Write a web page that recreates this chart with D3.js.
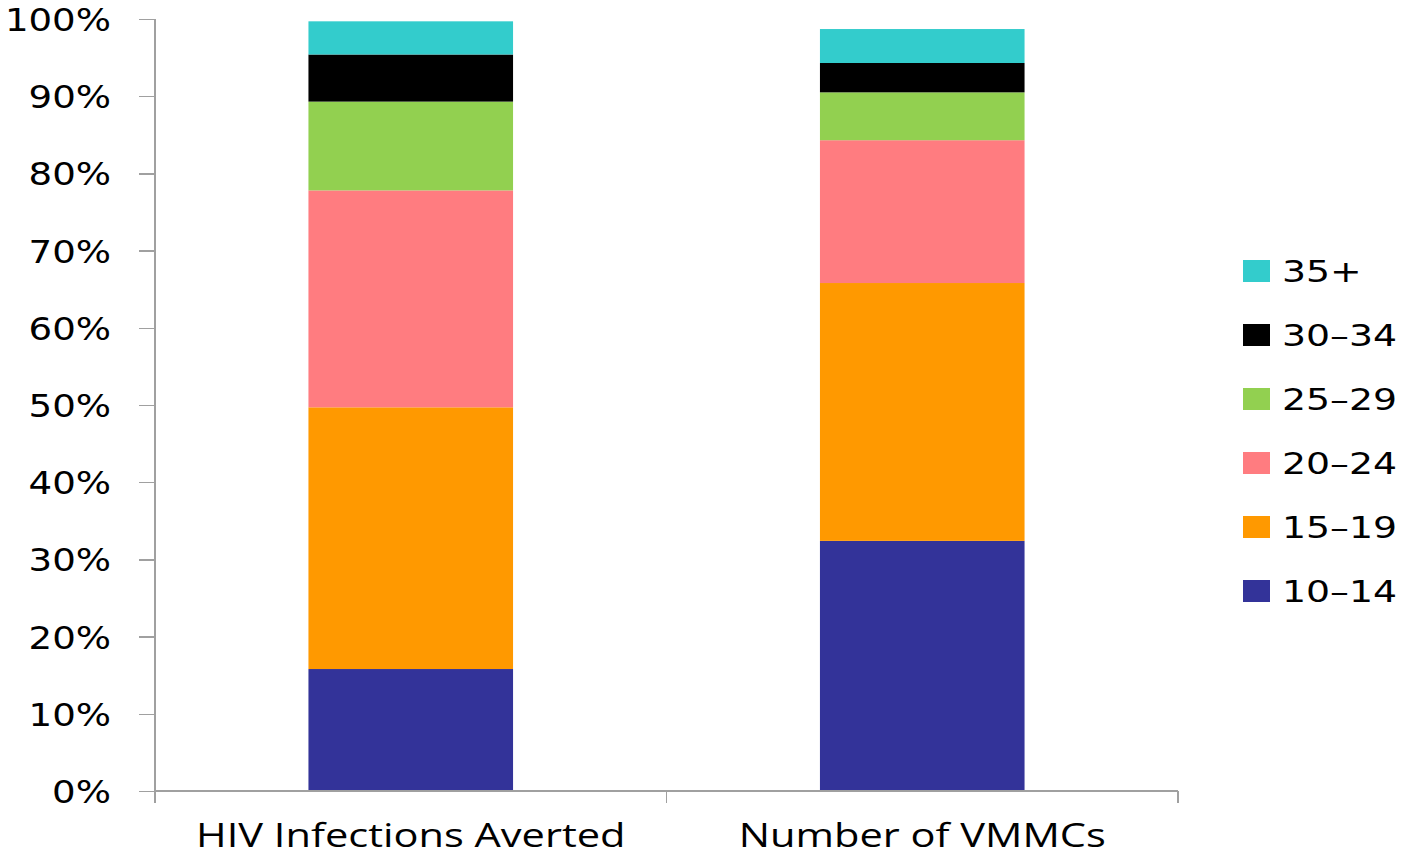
<!DOCTYPE html>
<html lang="en">
<head>
<meta charset="utf-8">
<title>Age distribution</title>
<style>
    body, html { margin: 0; padding: 0; background: #fff; overflow: hidden; }
    svg { display: block; }
    .axis path, .axis line { stroke: #a0a0a0; stroke-width: 1.5px; shape-rendering: crispEdges; }
    .ytick { font-family: "DejaVu Sans", sans-serif; font-size: 32px; fill: #000; }
    .xlabel { font-family: "Open Sans", sans-serif; font-size: 33px; fill: #000; }
    .legend text { font-family: "DejaVu Sans", sans-serif; font-size: 31px; fill: #000; }
</style>
<script src="https://d3js.org/d3.v7.min.js"></script>
</head>
<body>
<svg id="chart" width="1406" height="857"></svg>
<script>
// categories and series (shares of each bar)
var categories = ["HIV Infections Averted", "Number of VMMCs"];
var ageGroups = ["10\u201314", "15\u201319", "20\u201324", "25\u201329", "30\u201334", "35+"];
var averted = [0.158, 0.339, 0.281, 0.115, 0.061, 0.043];
var vmmcs = [0.324, 0.334, 0.185, 0.062, 0.038, 0.044];
var colors = ["#333399", "#ff9900", "#ff7c80", "#92d050", "#000000", "#33cccc"];
var yTicks = [0, 0.1, 0.2, 0.3, 0.4, 0.5, 0.6, 0.7, 0.8, 0.9, 1];

var svg = d3.select("#chart");
var stretch = 1.16; // text in the picture is drawn wide

var x = d3.scaleBand()
    .domain(categories)
    .range([155, 1178])
    .paddingInner(0.6)
    .paddingOuter(0.3);

var y = d3.scaleLinear()
    .domain([0, 1])
    .range([791, 19]);

var color = d3.scaleOrdinal().domain(ageGroups).range(colors);

// stack the values
var rows = categories.map(function(c, i) {
    var vals = i === 0 ? averted : vmmcs;
    var r = { cat: c };
    ageGroups.forEach(function(g, j) { r[g] = vals[j]; });
    return r;
});
var series = d3.stack().keys(ageGroups)(rows);

svg.append("g")
    .selectAll("g")
    .data(series)
    .enter().append("g")
    .attr("fill", function(d) { return color(d.key); })
    .selectAll("rect")
    .data(function(d) { return d; })
    .enter().append("rect")
    .attr("x", function(d) { return x(d.data.cat); })
    .attr("width", x.bandwidth())
    .attr("y", function(d) { return y(d[1]); })
    .attr("height", function(d) { return y(d[0]) - y(d[1]); });

// y axis
var yAxis = svg.append("g")
    .attr("class", "axis")
    .attr("transform", "translate(155,0)")
    .call(d3.axisLeft(y).tickValues(yTicks).tickSize(16).tickFormat(""));
yAxis.select(".domain").attr("d", "M0," + y(1) + "V" + y(0));

svg.append("g")
    .selectAll("text")
    .data(yTicks)
    .enter().append("text")
    .attr("class", "ytick")
    .attr("text-anchor", "end")
    .attr("transform", function(d) { return "translate(111," + (y(d) + 12) + ") scale(" + stretch + ",1)"; })
    .text(d3.format(".0%"));

// x axis
var xAxis = svg.append("g")
    .attr("class", "axis")
    .attr("transform", "translate(0," + y(0) + ")");
xAxis.append("path").attr("d", "M155,0H1178");
xAxis.selectAll("line")
    .data([155, 666.5, 1178])
    .enter().append("line")
    .attr("x1", function(d) { return d; })
    .attr("x2", function(d) { return d; })
    .attr("y1", 0)
    .attr("y2", 12);

svg.append("g")
    .selectAll("text")
    .data(categories)
    .enter().append("text")
    .attr("class", "xlabel")
    .attr("text-anchor", "middle")
    .attr("transform", function(d) { return "translate(" + (x(d) + x.bandwidth() / 2) + ",847) scale(1.26,1)"; })
    .text(function(d) { return d; });

// legend, top entry is the last group
var legend = svg.append("g")
    .attr("class", "legend")
    .selectAll("g")
    .data(ageGroups.slice().reverse())
    .enter().append("g")
    .attr("transform", function(d, i) { return "translate(1243," + (260 + i * 64) + ")"; });

legend.append("rect")
    .attr("width", 27)
    .attr("height", 22)
    .attr("fill", function(d) { return color(d); });

legend.append("text")
    .attr("transform", "translate(39,22) scale(1.22,1)")
    .text(function(d) { return d; });
</script>
</body>
</html>
